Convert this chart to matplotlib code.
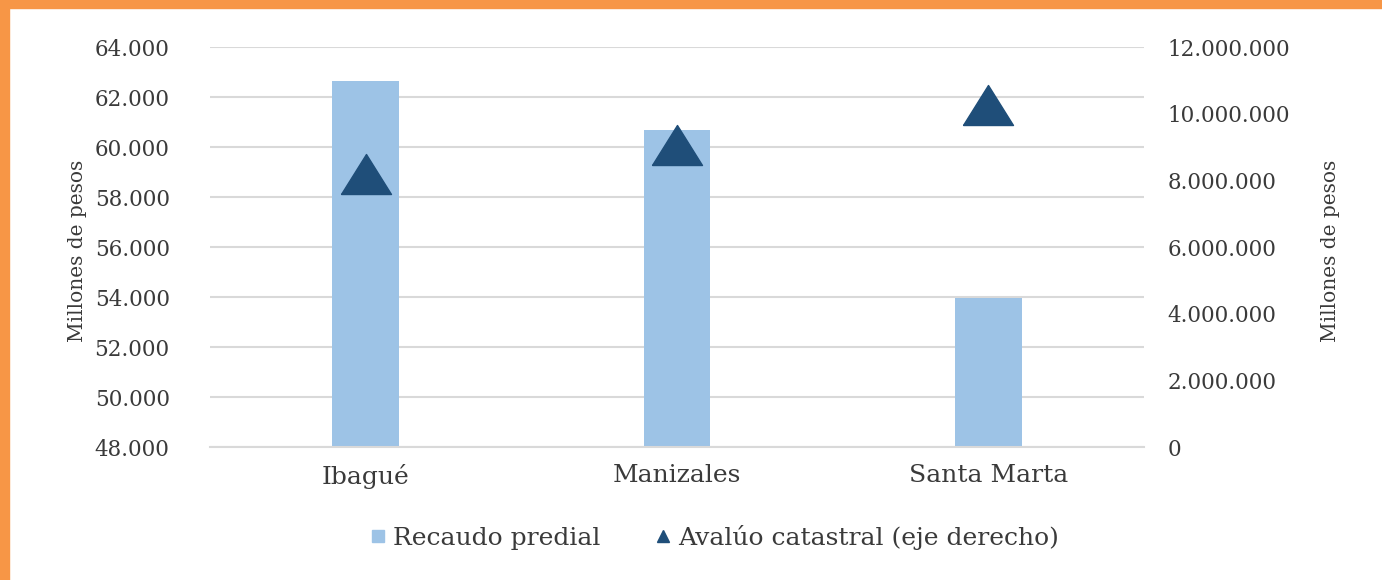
import matplotlib
matplotlib.use("Agg")
import matplotlib.pyplot as plt
from matplotlib.ticker import FuncFormatter
from matplotlib.lines import Line2D
from matplotlib.patches import Rectangle

categories = ["Ibagué", "Manizales", "Santa Marta"]
recaudo = [62650, 60700, 53950]
avaluo = [8200000, 9060000, 10250000]
left_ticks = [48000, 50000, 52000, 54000, 56000, 58000, 60000, 62000, 64000]
right_ticks = [0, 2000000, 4000000, 6000000, 8000000, 10000000, 12000000]

plt.rcParams['font.family'] = ['DejaVu Serif']

def fmt(v, pos=None):
    return f"{int(round(v)):,}".replace(",", ".")

TXT = "#3a3a3a"
tri = [(-0.5, -0.4), (0.5, -0.4), (0.0, 0.4), (-0.5, -0.4)]

fig = plt.figure(figsize=(13.82, 5.80), dpi=100)
fig.patch.set_facecolor("white")
fig.add_artist(Rectangle((0, 0), 9/1382, 1, transform=fig.transFigure, color="#F79646", zorder=0))
fig.add_artist(Rectangle((0, 1-8/580), 1, 8/580, transform=fig.transFigure, color="#F79646", zorder=0))

ax = fig.add_axes([210/1382, 1-447/580, (1144-210)/1382, 400/580])
x = list(range(len(categories)))
ax.bar(x, recaudo, width=0.215, color="#9DC3E6", zorder=2)
ax.set_ylim(48000, 64000)
ax.set_xlim(-0.5, 2.5)
ax.set_yticks(left_ticks)
ax.yaxis.set_major_formatter(FuncFormatter(fmt))
ax.grid(axis="y", color="#D9D9D9", linewidth=1.5, zorder=0)
ax.set_axisbelow(True)
for s in ["top", "right", "left"]:
    ax.spines[s].set_visible(False)
ax.spines["bottom"].set_color("#D9D9D9")
ax.spines["bottom"].set_linewidth(1.5)
ax.tick_params(axis="both", length=0, labelsize=15.5, colors=TXT)
ax.tick_params(axis="y", pad=29)
ax.tick_params(axis="x", pad=12, labelsize=18)
ax.set_xticks(x)
ax.set_xticklabels(categories)
ax.set_ylabel("Millones de pesos", fontsize=14.5, color=TXT)
ax.yaxis.set_label_coords(-0.1317, 0.49)

ax2 = ax.twinx()
ax2.plot(x, avaluo, linestyle="none", marker=tri, markersize=36, color="#1F4E79", zorder=3)
ax2.set_ylim(0, 12000000)
ax2.set_yticks(right_ticks)
ax2.yaxis.set_major_formatter(FuncFormatter(fmt))
for s in ["top", "right", "left", "bottom"]:
    ax2.spines[s].set_visible(False)
ax2.tick_params(axis="y", length=0, labelsize=15.5, colors=TXT, pad=17)
ax2.set_ylabel("Millones de pesos", fontsize=14.5, color=TXT)
ax2.yaxis.set_label_coords(1.189, 0.49)

handles = [
    Line2D([], [], linestyle="none", marker="s", markersize=9, color="#9DC3E6"),
    Line2D([], [], linestyle="none", marker="^", markersize=8, color="#1F4E79"),
]
fig.legend(handles, ["Recaudo predial", "Avalúo catastral (eje derecho)"],
           loc="center", bbox_to_anchor=(712/1382, 1-537/580), ncol=2, frameon=False,
           fontsize=18, handletextpad=0.1, columnspacing=2.0, handlelength=1.0,
           labelcolor=TXT)

fig.savefig("out.png", dpi=100)
